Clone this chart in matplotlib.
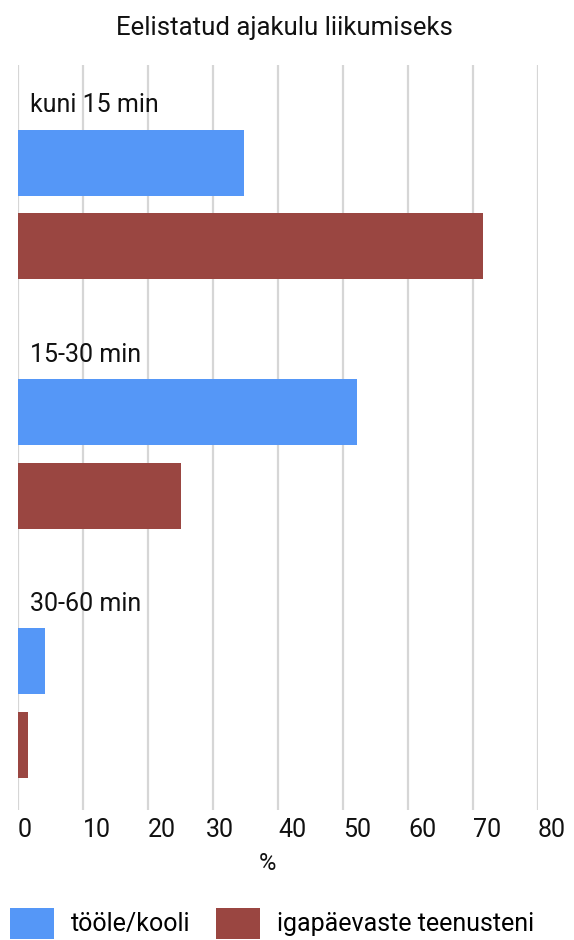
import matplotlib.pyplot as plt
import matplotlib.transforms as mtransforms
import numpy as np

plt.rcParams['font.family'] = ['Roboto', 'DejaVu Sans']

categories = ['kuni 15 min', '15-30 min', '30-60 min']
series_names = ['tööle/kooli', 'igapäevaste teenusteni']
too_kooli = [34.8, 52.2, 4.1]
teenused = [71.5, 25.1, 1.5]
x_ticks = [0, 10, 20, 30, 40, 50, 60, 70, 80]

blue = '#5597f7'
red = '#9a4641'

fig = plt.figure(figsize=(5.74, 9.40), dpi=100)
ax = fig.add_axes([18 / 574, 1 - 810 / 940, 520 / 574, 745 / 940])

pos = np.arange(len(categories))
off = 0.168
h = 0.265
ax.barh(pos - off, too_kooli, height=h, color=blue, label=series_names[0], zorder=3)
ax.barh(pos + off, teenused, height=h, color=red, label=series_names[1], zorder=3)

for p, c in zip(pos, categories):
    ax.text(1.9, p - 0.37, c, fontsize=18, va='baseline', ha='left', color='#111111')

ax.set_xlim(0, 80)
ax.set_ylim(2.43, -0.56)
ax.set_yticks([])
ax.set_xticks(x_ticks)
ax.set_xticklabels([str(t) for t in x_ticks], fontsize=18, ha='left', color='#111111')
ax.tick_params(axis='x', length=0, pad=6)
for lab in ax.get_xticklabels():
    if lab.get_text() == '30':
        lab.set_transform(lab.get_transform() +
                          mtransforms.ScaledTranslation(-0.07, 0, fig.dpi_scale_trans))
ax.grid(axis='x', color='#d6d6d6', linewidth=1.6, zorder=0)
for s in ax.spines.values():
    s.set_visible(False)

fig.text(267 / 574, 1 - 863 / 940, '%', fontsize=17, ha='center', va='center', color='#111111')
fig.text(284 / 574, 1 - 28 / 940, 'Eelistatud ajakulu liikumiseks', fontsize=18.5,
         ha='center', va='center', color='#111111')

fig.legend(loc='upper left', bbox_to_anchor=(0.0, 1 - 898 / 940), ncol=2, frameon=False,
           fontsize=18, handlelength=1.75, handleheight=1.5, handletextpad=0.7,
           columnspacing=1.0, borderaxespad=0, borderpad=0.4)

plt.savefig('out.png', dpi=100)
